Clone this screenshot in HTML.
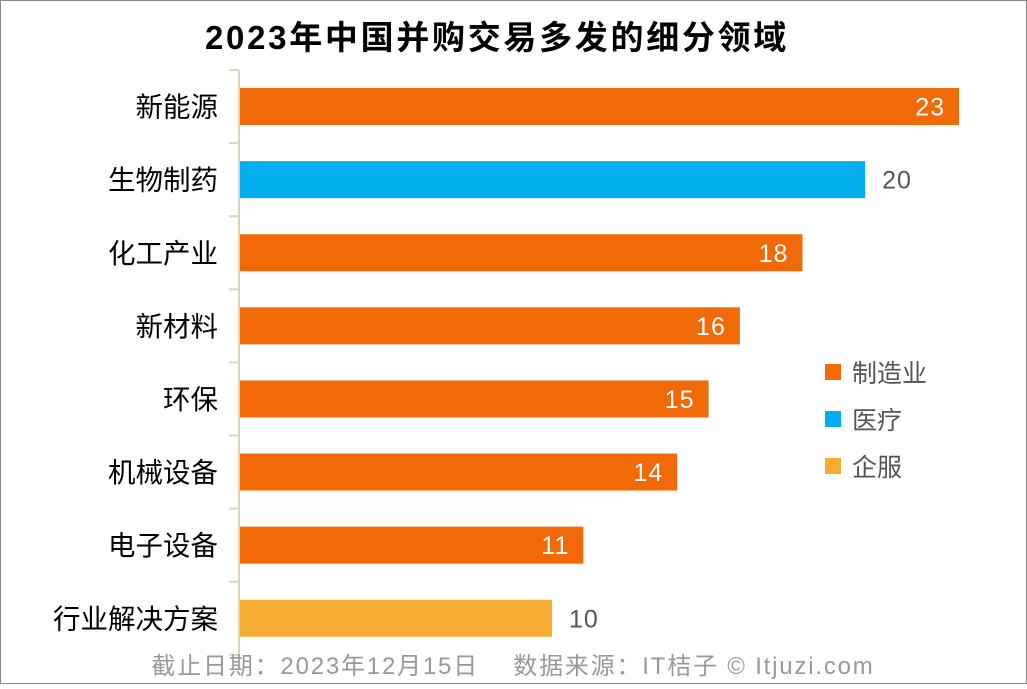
<!DOCTYPE html>
<html><head><meta charset="utf-8"><style>
html,body{margin:0;padding:0;background:#fff}
body{width:1027px;height:684px;overflow:hidden;font-family:"Liberation Sans","Noto Sans CJK SC",sans-serif}
</style></head><body>
<svg id="chart" width="1027" height="684" xmlns="http://www.w3.org/2000/svg" font-family="Liberation Sans, Noto Sans CJK SC, sans-serif">
<rect x="0.5" y="0.5" width="1026" height="683" fill="#fff" stroke="#888"/>
<text x="497" y="49" text-anchor="middle" font-size="33" font-weight="bold" letter-spacing="2.7" fill="#000">2023年中国并购交易多发的细分领域</text>
<g id="plot"></g>
<g>
<rect x="825" y="364" width="16" height="16" fill="#f26a07"/>
<text x="852" y="382" font-size="25" fill="#555">制造业</text>
<rect x="825" y="411" width="16" height="16" fill="#03aeef"/>
<text x="852" y="429" font-size="25" fill="#555">医疗</text>
<rect x="825" y="458" width="16" height="16" fill="#f5ac30"/>
<text x="852" y="476" font-size="25" fill="#555">企服</text>
</g>
<text x="513" y="674" text-anchor="middle" font-size="24" letter-spacing="1.8" fill="#999">截止日期：2023年12月15日　 数据来源：IT桔子 © Itjuzi.com</text>
</svg>
<script>
const categories=["新能源","生物制药","化工产业","新材料","环保","机械设备","电子设备","行业解决方案"];
const values=[23,20,18,16,15,14,11,10];
const groups=["m","med","m","m","m","m","m","ent"];
const colors={m:"#f26a07",med:"#03aeef",ent:"#f5ac30"};
const NS="http://www.w3.org/2000/svg";
const g=document.getElementById("plot");
const x0=239,unit=(959-239)/23,top0=70,step=73.1,bh=37;
const xs=v=>x0+v*unit;
const yc=i=>top0+step*(i+0.5);
function mk(t,a){const e=document.createElementNS(NS,t);for(const k in a)e.setAttribute(k,a[k]);g.appendChild(e);return e;}
let ax=mk("line",{x1:x0,x2:x0,y1:top0,y2:top0+step*categories.length,stroke:"#d9d4c0","stroke-width":2});


for(let i=0;i<=categories.length;i++){
 let t=mk("line",{x1:x0-10,x2:x0,y1:top0+step*i,y2:top0+step*i,stroke:"#d9d4c0","stroke-width":2});
 
 
}
categories.forEach((c,i)=>{
 const y=yc(i);
 let b=mk("rect",{x:x0+1,y:y-bh/2,width:xs(values[i])-x0-1,height:bh,fill:colors[groups[i]]});
 
 
 let l=mk("text",{x:218,y:y+10,"text-anchor":"end","font-size":27.5,fill:"#000"});
 l.textContent=c;
 
 
 const inside=groups[i]==="m";
 let v=mk("text",{x:inside?xs(values[i])-14:xs(values[i])+17,y:y+9,"text-anchor":inside?"end":"start","font-size":25,"letter-spacing":1,fill:inside?"#fff":"#555"});
 v.textContent=values[i];
 
 
});
</script>
</body></html>
